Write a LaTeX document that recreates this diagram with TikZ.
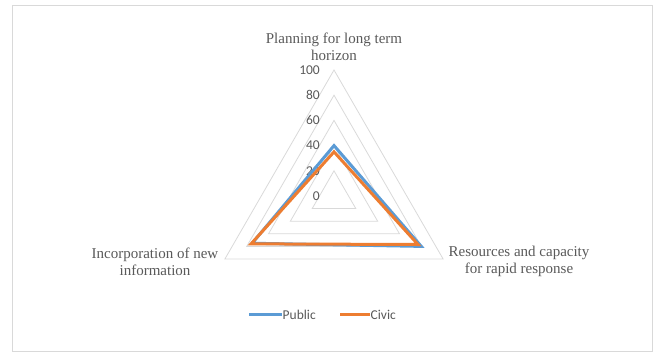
\documentclass[tikz,border=0pt]{standalone}
\usepackage{fontspec}
\setmainfont{Liberation Serif}
\newfontfamily\calib{Carlito}
\usetikzlibrary{calc}
\definecolor{pub}{HTML}{5B9BD5}
\definecolor{civ}{HTML}{ED7D31}
\definecolor{gridc}{HTML}{D9D9D9}
\definecolor{txt}{HTML}{595959}
\tikzset{
  gridline/.style={draw=gridc, line width=0.8pt},
  frameline/.style={draw=gridc, line width=0.9pt},
  numlbl/.style={text=txt, font=\calib\fontsize{13.5}{15}\selectfont, inner sep=0pt, anchor=east},
  axlbl/.style={text=txt, font=\fontsize{15}{17}\selectfont, align=center, inner sep=0pt},
  publine/.style={draw=pub, line width=3pt, line join=miter},
  civline/.style={draw=civ, line width=3pt, line join=miter},
  leglbl/.style={text=txt, font=\calib\fontsize{13.5}{15}\selectfont, inner sep=0.5pt, anchor=west}
}
\begin{document}
\begin{tikzpicture}[x=1pt,y=1pt]
\useasboundingbox (0,0) rectangle (655,352);
\draw[frameline] (12,1) rectangle (652,347);
\coordinate (C) at (334,156);
% grid triangles
\foreach \r in {20,40,60,80,100} {
  \draw[gridline] ($(C)+(90:1.26*\r)$) -- ($(C)+(210:1.26*\r)$) -- ($(C)+(330:1.26*\r)$) -- cycle;
}
% scale labels
\foreach \r in {0,20,40,60,80,100} {
  \node[numlbl] (n\r) at (320,156+1.26*\r) {\r};
}
% axis labels
\node[axlbl] (top) at (334,305) {Planning for long term\\horizon};
\node[axlbl] (left) at (155,90.5) {Incorporation of new\\information};
\node[axlbl] (right) at (519,90.5) {Resources and capacity\\for rapid response};
% data points
\coordinate (p1) at ($(C)+(90:1.26*40)$);
\coordinate (p2) at ($(C)+(330:1.26*80)$);
\coordinate (p3) at ($(C)+(210:1.26*75)$);
\coordinate (c1) at ($(C)+(90:1.26*35)$);
\coordinate (c2) at ($(C)+(330:1.26*77)$);
\coordinate (c3) at ($(C)+(210:1.26*76)$);
\draw[publine] (p1) -- (p2) -- (p3) -- cycle;
\draw[civline] (c1) -- (c2) -- (c3) -- cycle;
% legend
\coordinate (la) at (249,37);
\coordinate (lb) at (282,37);
\coordinate (lc) at (340,37);
\coordinate (ld) at (370,37);
\draw[publine] (la) -- (lb);
\draw[civline] (lc) -- (ld);
\node[leglbl] (lp) at (lb) {Public};
\node[leglbl] (lcv) at (ld) {Civic};
\end{tikzpicture}
\end{document}
